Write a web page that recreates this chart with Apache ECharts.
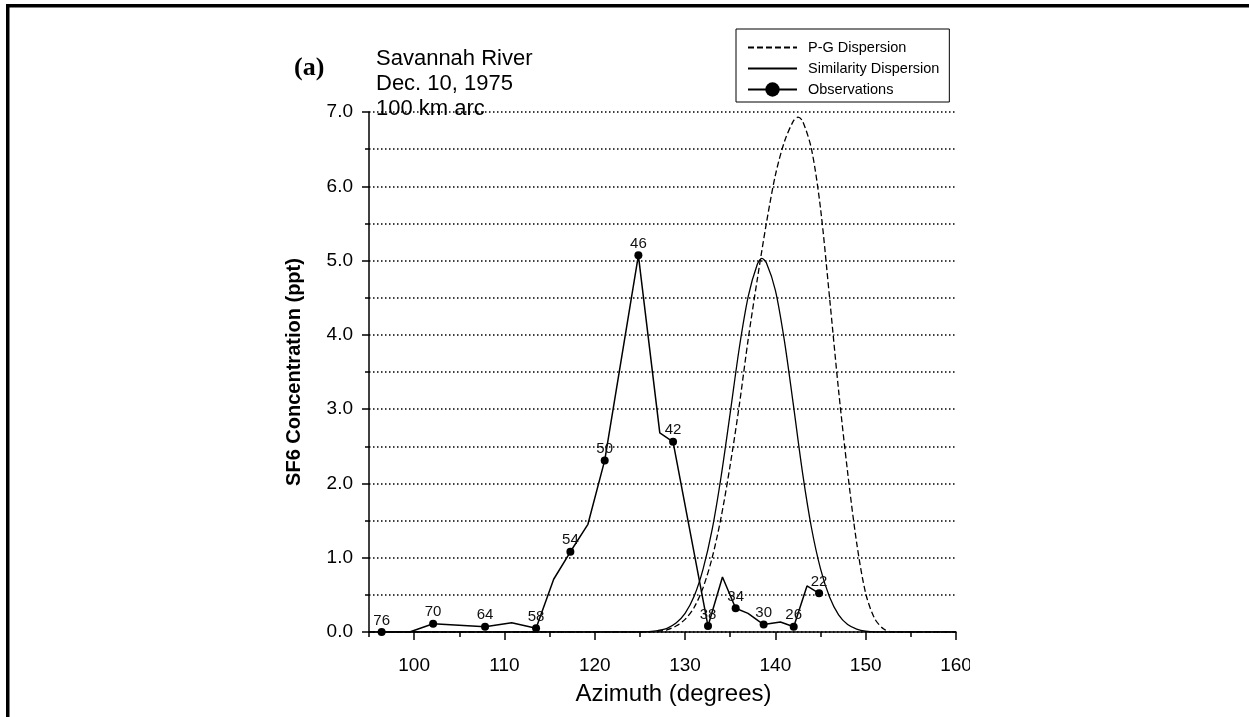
<!DOCTYPE html>
<html>
<head>
<meta charset="utf-8">
<script src="https://cdn.jsdelivr.net/npm/echarts@6/dist/echarts.min.js"></script>
<style>
  html, body { margin: 0; padding: 0; background: #fff; }
  #chart { width: 1249px; height: 717px; }
</style>
</head>
<body>
<div id="chart"></div>
<script>
// Azimuth ticks (degrees)
const azimuthMajorTicks = [100, 110, 120, 130, 140, 150, 160];

// Pasquill-Gifford dispersion model
const pgAzimuth = [95, 126, 127, 128, 129, 130, 131, 132, 133, 134, 135, 136, 137, 138, 139, 140, 141, 142, 142.5, 143, 144, 145, 146, 147, 148, 149, 150, 151, 152, 153, 160];
const pgConc    = [0, 0, 0.01, 0.03, 0.08, 0.17, 0.33, 0.6, 1.0, 1.55, 2.25, 3.05, 3.95, 4.75, 5.5, 6.15, 6.6, 6.88, 6.93, 6.88, 6.5, 5.7, 4.5, 3.25, 2.15, 1.2, 0.52, 0.18, 0.04, 0, 0];

// Similarity dispersion model
const simAzimuth = [95, 125, 126, 127, 128, 129, 130, 131, 132, 133, 134, 135, 136, 137, 138, 138.5, 139, 140, 141, 142, 143, 144, 145, 146, 147, 148, 149, 150, 151, 160];
const simConc    = [0, 0, 0.005, 0.02, 0.05, 0.12, 0.25, 0.48, 0.85, 1.38, 2.1, 2.95, 3.82, 4.52, 4.95, 5.03, 4.97, 4.6, 3.92, 3.05, 2.15, 1.4, 0.85, 0.47, 0.23, 0.1, 0.04, 0.01, 0, 0];

// Observed SF6 along the 100 km arc; station number where a sampler sat
const obsAzimuth = [96.4, 99.5, 102.1, 107.85, 110.8, 113.5, 115.45, 117.3, 119.24, 121.1, 124.83, 127.2, 128.67, 132.54, 134.14, 135.6, 136.97, 138.7, 140.56, 142.03, 143.5, 144.84];
const obsConc    = [0, 0, 0.11, 0.07, 0.125, 0.05, 0.71, 1.08, 1.45, 2.31, 5.07, 2.68, 2.56, 0.08, 0.74, 0.32, 0.25, 0.10, 0.135, 0.07, 0.62, 0.52];
const obsStation = [76, null, 70, 64, null, 58, null, 54, null, 50, 46, null, 42, 38, null, 34, null, 30, null, 26, null, 22];

const FONT = '"Liberation Sans", Arial, Helvetica, sans-serif';

const zip = (xs, ys) => xs.map((x, i) => [x, ys[i]]);

const obsData = obsAzimuth.map((az, i) => {
  const st = obsStation[i];
  return {
    value: [az, obsConc[i]],
    station: st,
    symbol: st == null ? 'none' : 'circle',
    label: { show: st != null }
  };
});

const chart = echarts.init(document.getElementById('chart'), null, { renderer: 'canvas' });

chart.setOption({
  backgroundColor: '#fff',
  animation: false,
  textStyle: { fontFamily: FONT, color: '#000' },
  title: [
    {
      text: '(a)',
      left: 289, top: 50,
      textStyle: { fontFamily: '"Liberation Serif", "Times New Roman", serif', fontWeight: 'bold', fontSize: 26, color: '#000' }
    },
    {
      text: 'Savannah River\nDec. 10, 1975\n100 km arc',
      left: 371, top: 41,
      textStyle: { fontFamily: FONT, fontWeight: 'normal', fontSize: 22, lineHeight: 25, color: '#000' }
    }
  ],
  legend: {
    orient: 'vertical',
    left: 736, top: 29,
    padding: [11, 10, 5, 11],
    itemWidth: 49, itemHeight: 18, itemGap: 6,
    backgroundColor: '#fff',
    borderColor: '#000', borderWidth: 1,
    textStyle: { fontFamily: FONT, fontSize: 14.5, color: '#000', padding: [0, 0, 0, 6] },
    data: ['P-G Dispersion', 'Similarity Dispersion', 'Observations']
  },
  grid: { left: 369, right: 293, top: 112, bottom: 85, containLabel: false },
  xAxis: [
    {
      type: 'value', min: 95, max: 160, interval: 5,
      name: 'Azimuth (degrees)', nameLocation: 'middle', nameGap: 50,
      nameTextStyle: { fontFamily: FONT, fontSize: 24, color: '#000', padding: [0, 0, 0, 22] },
      axisLine: { show: true, onZero: false, lineStyle: { color: '#000', width: 1.5 } },
      axisTick: { show: true, length: 5, lineStyle: { color: '#000', width: 1.5 } },
      axisLabel: {
        show: true, margin: 24, fontFamily: FONT, fontSize: 19, color: '#000',
        customValues: azimuthMajorTicks,
        formatter: v => String(v)
      },
      splitLine: { show: false }
    },
    {
      type: 'value', min: 95, max: 160, interval: 5, gridIndex: 0, position: 'bottom',
      axisLine: { show: false },
      axisTick: { show: true, length: 8, customValues: azimuthMajorTicks, lineStyle: { color: '#000', width: 1.5 } },
      axisLabel: { show: false },
      splitLine: { show: false }
    }
  ],
  yAxis: {
    type: 'value', min: 0, max: 7, interval: 1,
    name: 'SF6 Concentration (ppt)', nameLocation: 'middle', nameGap: 65, nameRotate: 90,
    nameMoveOverlap: false,
    nameTextStyle: { fontFamily: FONT, fontSize: 20, fontWeight: 'bold', color: '#000' },
    axisLine: { show: true, lineStyle: { color: '#000', width: 1.5 } },
    axisTick: { show: true, length: 7, lineStyle: { color: '#000', width: 1.5 } },
    minorTick: { show: true, splitNumber: 2, length: 4, lineStyle: { color: '#000', width: 1.5 } },
    axisLabel: { margin: 16, fontFamily: FONT, fontSize: 19, color: '#000', formatter: v => v.toFixed(1) },
    splitLine: { show: true, lineStyle: { color: '#000', width: 1.5, type: [1.5, 2.5] } },
    minorSplitLine: { show: true, lineStyle: { color: '#000', width: 1.5, type: [1.5, 2.5] } }
  },
  series: [
    {
      name: 'P-G Dispersion', type: 'line',
      data: zip(pgAzimuth, pgConc),
      symbol: 'none', smooth: 0.3,
      lineStyle: { color: '#000', width: 1.3, type: [6, 3] },
      itemStyle: { color: '#000', opacity: 0 },
      z: 3
    },
    {
      name: 'Similarity Dispersion', type: 'line',
      data: zip(simAzimuth, simConc),
      symbol: 'none', smooth: 0.3,
      lineStyle: { color: '#000', width: 1.3, type: 'solid' },
      itemStyle: { color: '#000', opacity: 0 },
      z: 3
    },
    {
      name: 'Observations', type: 'line',
      data: obsData,
      symbol: 'circle', symbolSize: 8, showAllSymbol: true,
      lineStyle: { color: '#000', width: 1.5 },
      itemStyle: { color: '#000' },
      label: {
        show: true, position: 'top', distance: 0,
        fontFamily: FONT, fontSize: 15, color: '#111',
        formatter: p => (p.data.station == null ? '' : String(p.data.station))
      },
      z: 4
    }
  ],
  graphic: [
    // outer frame (top and left edges)
    { type: 'rect', left: 6, top: 4, shape: { width: 1300, height: 3.5 }, style: { fill: '#000' }, z: 100 },
    { type: 'rect', left: 6, top: 4, shape: { width: 3.5, height: 720 }, style: { fill: '#000' }, z: 100 },
    // clip region to the right of the plotting frame
    { type: 'rect', left: 970, top: 645, shape: { width: 40, height: 35 }, style: { fill: '#fff' }, z: 100 }
  ]
});
</script>
</body>
</html>
